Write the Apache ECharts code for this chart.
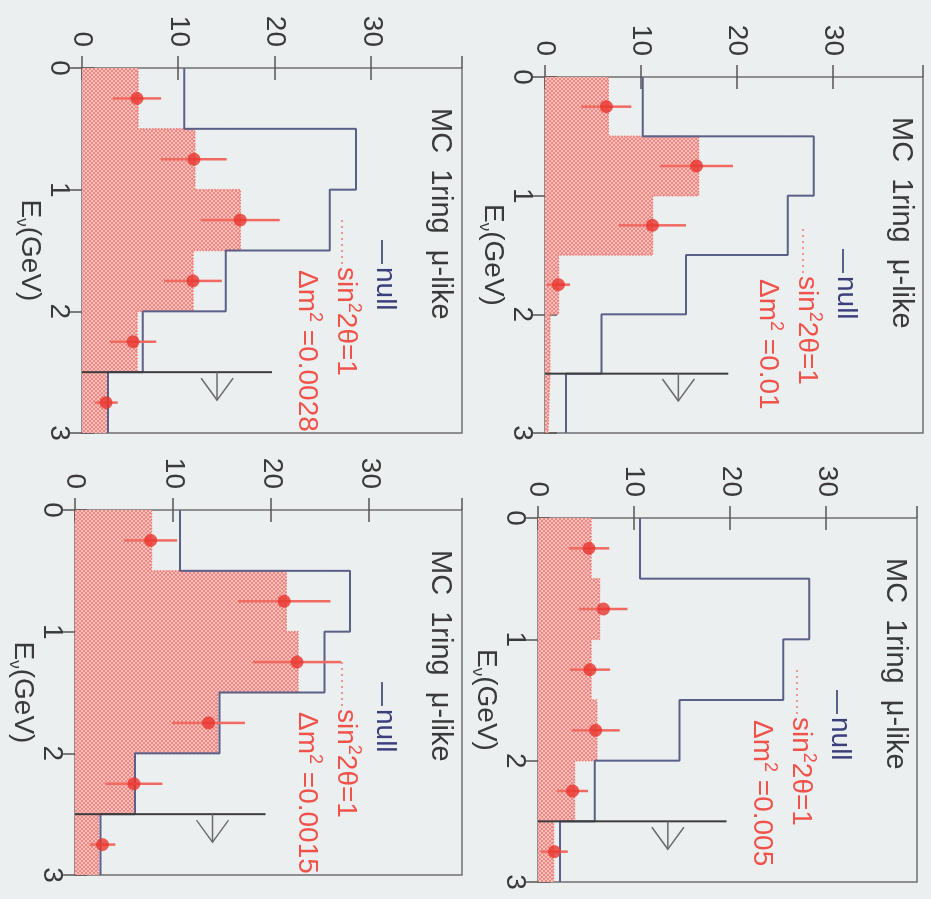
<!DOCTYPE html>
<html>
<head>
<meta charset="utf-8">
<script src="https://cdn.jsdelivr.net/npm/echarts@6/dist/echarts.min.js"></script>
<style>
  html, body { margin: 0; padding: 0; width: 931px; height: 899px; overflow: hidden; background: #eceff0; }
  /* the figure is laid out upright and turned a quarter turn clockwise on the page */
  #chart { position: absolute; left: 0; top: 0; width: 899px; height: 931px;
           transform-origin: 0 0; transform: translate(931px, 0) rotate(90deg); }
</style>
</head>
<body>
<div id="chart"></div>
<script>
// ---- binning and ticks ----
const binEdges = [0, 0.5, 1, 1.5, 2, 2.5, 3];          // E_nu (GeV)
const binCenters = [0.25, 0.75, 1.25, 1.75, 2.25, 2.75];
const energyTicks = [0, 1, 2, 3];
const countTicks = [0, 10, 20, 30];
const countMax = 39.4;
const dm2Values = ['0.01', '0.005', '0.0028', '0.0015'];

// ---- no-oscillation expectation (events per bin) ----
const nullDm2_0100 = [10.2, 28.0, 25.3, 14.7, 5.9, 2.2];
const nullDm2_0050 = [10.6, 28.2, 25.5, 14.7, 5.9, 2.3];
const nullDm2_0028 = [10.6, 28.4, 25.7, 14.9, 6.3, 2.7];
const nullDm2_0015 = [10.7, 28.0, 25.4, 14.7, 6.1, 2.6];

// ---- expectation with sin^2 2theta = 1 ----
const oscDm2_0100 = [6.6, 16.0, 11.2, 1.4, 0.5, 0.3];
const oscDm2_0050 = [5.5, 6.4, 5.5, 6.1, 3.8, 1.6];
const oscDm2_0028 = [5.8, 11.7, 16.4, 11.5, 5.7, 2.7];
const oscDm2_0015 = [7.8, 21.5, 22.7, 14.5, 6.1, 2.4];

// ---- MC sample points and their errors ----
const mcDm2_0100 = [6.4, 15.8, 11.2, 1.4, null, null];
const errDm2_0100 = [2.6, 3.8, 3.5, 1.2, null, null];
const mcDm2_0050 = [5.3, 6.8, 5.4, 6.0, 3.6, 1.7];
const errDm2_0050 = [2.1, 2.5, 2.1, 2.5, 1.6, 1.4];
const mcDm2_0028 = [5.7, 11.6, 16.4, 11.5, 5.3, 2.5];
const errDm2_0028 = [2.5, 3.4, 4.1, 3.0, 2.4, 1.2];
const mcDm2_0015 = [7.7, 21.3, 22.6, 13.6, 6.0, 2.8];
const errDm2_0015 = [2.7, 4.7, 4.5, 3.7, 2.9, 1.3];

// ---- last-bin marker: cut at 2.5 GeV with an overflow arrow ----
const cutEnergy = 2.5;
const arrowTipEnergy = 2.73;
const cutTops = [19.1, 19.6, 19.7, 19.4];
const arrowLevels = [13.9, 13.5, 14.0, 14.0];

const nullSets = [nullDm2_0100, nullDm2_0050, nullDm2_0028, nullDm2_0015];
const oscSets = [oscDm2_0100, oscDm2_0050, oscDm2_0028, oscDm2_0015];
const mcSets = [mcDm2_0100, mcDm2_0050, mcDm2_0028, mcDm2_0015];
const errSets = [errDm2_0100, errDm2_0050, errDm2_0028, errDm2_0015];

// panel boxes in the upright frame
const boxes = [
  { left: 77,  top: 8,   width: 356, height: 378 },
  { left: 518, top: 14,  width: 364, height: 379 },
  { left: 68,  top: 469, width: 365, height: 380 },
  { left: 510, top: 469, width: 365, height: 387 }
];

const FONT = "'Liberation Sans', Arial, Helvetica, sans-serif";
const INK = '#3a3a3a';
const NULL_COLOR = '#5b6088';
const RED = '#e8352d';
const RED_TEXT = '#f0524a';

function stepPoints(values) {
  const pts = values.map((v, i) => [binEdges[i], v]);
  pts.push([binEdges[binEdges.length - 1], values[values.length - 1]]);
  return pts;
}

// dotted red fill texture
function fillTexture() {
  const c = document.createElement('canvas');
  c.width = 4; c.height = 4;
  const g = c.getContext('2d');
  g.fillStyle = '#f6c0bc'; g.fillRect(0, 0, 4, 4);
  g.fillStyle = '#ee8782';
  g.fillRect(0, 0, 2, 2); g.fillRect(2, 2, 2, 2);
  return c;
}
const texture = fillTexture();

const chart = echarts.init(document.getElementById('chart'), null, { renderer: 'canvas', width: 899, height: 931 });

const grids = [], xAxes = [], yAxes = [], series = [], graphics = [];

boxes.forEach((b, i) => {
  grids.push({ left: b.left, top: b.top, width: b.width, height: b.height,
               show: true, borderColor: '#707070', borderWidth: 1.5, backgroundColor: 'transparent' });

  const tick = { show: true, inside: true, length: 12, lineStyle: { color: '#555', width: 1.5 } };
  // energy axis (bottom, labelled) and its mirror on top
  xAxes.push({
    type: 'value', gridIndex: i, min: 0, max: 3, interval: 1, position: 'bottom',
    axisLine: { show: false }, splitLine: { show: false }, axisTick: tick,
    axisLabel: { margin: 9, fontSize: 28, fontFamily: FONT, color: INK,
                 formatter: v => energyTicks.includes(v) ? String(v) : '' },
    name: '{a|E}{b|ν}{a|(GeV)}', nameLocation: 'middle', nameGap: 9,
    nameTextStyle: { rich: {
      a: { fontSize: 28, fontFamily: FONT, color: INK, lineHeight: 34 },
      b: { fontSize: 17, fontFamily: FONT, color: INK, lineHeight: 17, verticalAlign: 'bottom' }
    } }
  });
  xAxes.push({
    type: 'value', gridIndex: i, min: 0, max: 3, interval: 1, position: 'top',
    axisLine: { show: false }, splitLine: { show: false }, axisTick: tick, axisLabel: { show: false }
  });
  // event-count axis (left, labelled) and its mirror on the right
  yAxes.push({
    type: 'value', gridIndex: i, min: 0, max: countMax, interval: 10, position: 'left',
    axisLine: { show: false }, splitLine: { show: false }, axisTick: tick,
    axisLabel: { margin: 21, fontSize: 28, fontFamily: FONT, color: INK, showMaxLabel: false,
                 formatter: v => countTicks.includes(v) ? String(v) : '' }
  });
  yAxes.push({
    type: 'value', gridIndex: i, min: 0, max: countMax, interval: 10, position: 'right',
    axisLine: { show: false }, splitLine: { show: false }, axisTick: tick, axisLabel: { show: false }
  });

  const xi = 2 * i, yi = 2 * i;

  // oscillated expectation: filled, dotted outline
  series.push({
    type: 'line', xAxisIndex: xi, yAxisIndex: yi, step: 'end', showSymbol: false, silent: true,
    data: stepPoints(oscSets[i]),
    lineStyle: { color: '#ef7b75', width: 1.5, type: 'dotted' },
    areaStyle: { color: { image: texture, repeat: 'repeat' }, opacity: 1 },
    z: 2
  });
  // no-oscillation expectation
  series.push({
    type: 'line', xAxisIndex: xi, yAxisIndex: yi, step: 'end', showSymbol: false, silent: true,
    data: stepPoints(nullSets[i]),
    lineStyle: { color: NULL_COLOR, width: 2 },
    z: 3
  });
  // 2.5 GeV cut with overflow arrow
  series.push({
    type: 'custom', xAxisIndex: xi, yAxisIndex: yi, silent: true, z: 4,
    data: [[cutEnergy, cutTops[i], arrowLevels[i], arrowTipEnergy]],
    renderItem: (params, api) => {
      const base = api.coord([api.value(0), 0]);
      const top = api.coord([api.value(0), api.value(1)]);
      const s0 = api.coord([api.value(0), api.value(2)]);
      const tip = api.coord([api.value(3), api.value(2)]);
      return { type: 'group', children: [
        { type: 'line', shape: { x1: base[0], y1: base[1], x2: top[0], y2: top[1] },
          style: { stroke: '#3c3c3c', lineWidth: 2 } },
        { type: 'line', shape: { x1: s0[0], y1: s0[1], x2: tip[0], y2: tip[1] },
          style: { stroke: '#6a6a6a', lineWidth: 1.5 } },
        { type: 'polyline', shape: { points: [[tip[0] - 22, tip[1] - 16], [tip[0], tip[1]], [tip[0] - 22, tip[1] + 16]] },
          style: { stroke: '#6a6a6a', lineWidth: 1.5, fill: 'none' } }
      ] };
    }
  });
  // MC points: error bars then markers
  const pts = [];
  mcSets[i].forEach((v, k) => { if (v !== null) pts.push([binCenters[k], v, errSets[i][k]]); });
  series.push({
    type: 'custom', xAxisIndex: xi, yAxisIndex: yi, silent: true, z: 5,
    data: pts,
    renderItem: (params, api) => {
      const x = api.value(0), y = api.value(1), e = api.value(2);
      const lo = api.coord([x, Math.max(0, y - e)]);
      const hi = api.coord([x, y + e]);
      return { type: 'line', shape: { x1: lo[0], y1: lo[1], x2: hi[0], y2: hi[1] },
               style: { stroke: '#f06a62', lineWidth: 2.5 } };
    }
  });
  series.push({
    type: 'scatter', xAxisIndex: xi, yAxisIndex: yi, silent: true, z: 6,
    data: pts.map(p => [p[0], p[1]]),
    symbol: 'circle', symbolSize: 13, itemStyle: { color: RED }
  });

  // panel title and key
  const L = b.left, T = b.top;
  const textBase = { fontFamily: FONT, align: 'left', verticalAlign: 'middle',
                     textAlign: 'left', textVerticalAlign: 'middle' };
  graphics.push({ type: 'text', x: L + 40, y: T + 22, z: 10,
    style: Object.assign({ text: 'MC  1ring  μ-like', fontSize: 29, fill: INK }, textBase) });
  graphics.push({ type: 'line', z: 10, shape: { x1: L + 172, y1: T + 80, x2: L + 196, y2: T + 80 },
    style: { stroke: NULL_COLOR, lineWidth: 2 } });
  graphics.push({ type: 'text', x: L + 199, y: T + 77, z: 10,
    style: Object.assign({ text: 'null', fontSize: 28, fill: '#3a3e7a' }, textBase) });
  graphics.push({ type: 'line', z: 10, shape: { x1: L + 152, y1: T + 120, x2: L + 196, y2: T + 120 },
    style: { stroke: '#f07a72', lineWidth: 1.5, lineDash: [2, 4] } });
  graphics.push({ type: 'text', x: L + 199, y: T + 116, z: 10,
    style: Object.assign({ text: '{n|sin}{s|2}{n|2θ=1}', fill: RED_TEXT,
      rich: { n: { fontSize: 28, fontFamily: FONT, fill: RED_TEXT, lineHeight: 34 },
              s: { fontSize: 18, fontFamily: FONT, fill: RED_TEXT, lineHeight: 18, verticalAlign: 'top' } } }, textBase) });
  graphics.push({ type: 'text', x: L + 202, y: T + 155, z: 10,
    style: Object.assign({ text: '{n|Δm}{s|2}{n| =' + dm2Values[i] + '}', fill: RED_TEXT,
      rich: { n: { fontSize: 28, fontFamily: FONT, fill: RED_TEXT, lineHeight: 34 },
              s: { fontSize: 18, fontFamily: FONT, fill: RED_TEXT, lineHeight: 18, verticalAlign: 'top' } } }, textBase) });
});

chart.setOption({
  backgroundColor: '#eceff0',
  animation: false,
  grid: grids,
  xAxis: xAxes,
  yAxis: yAxes,
  series: series,
  graphic: graphics
});
</script>
</body>
</html>
